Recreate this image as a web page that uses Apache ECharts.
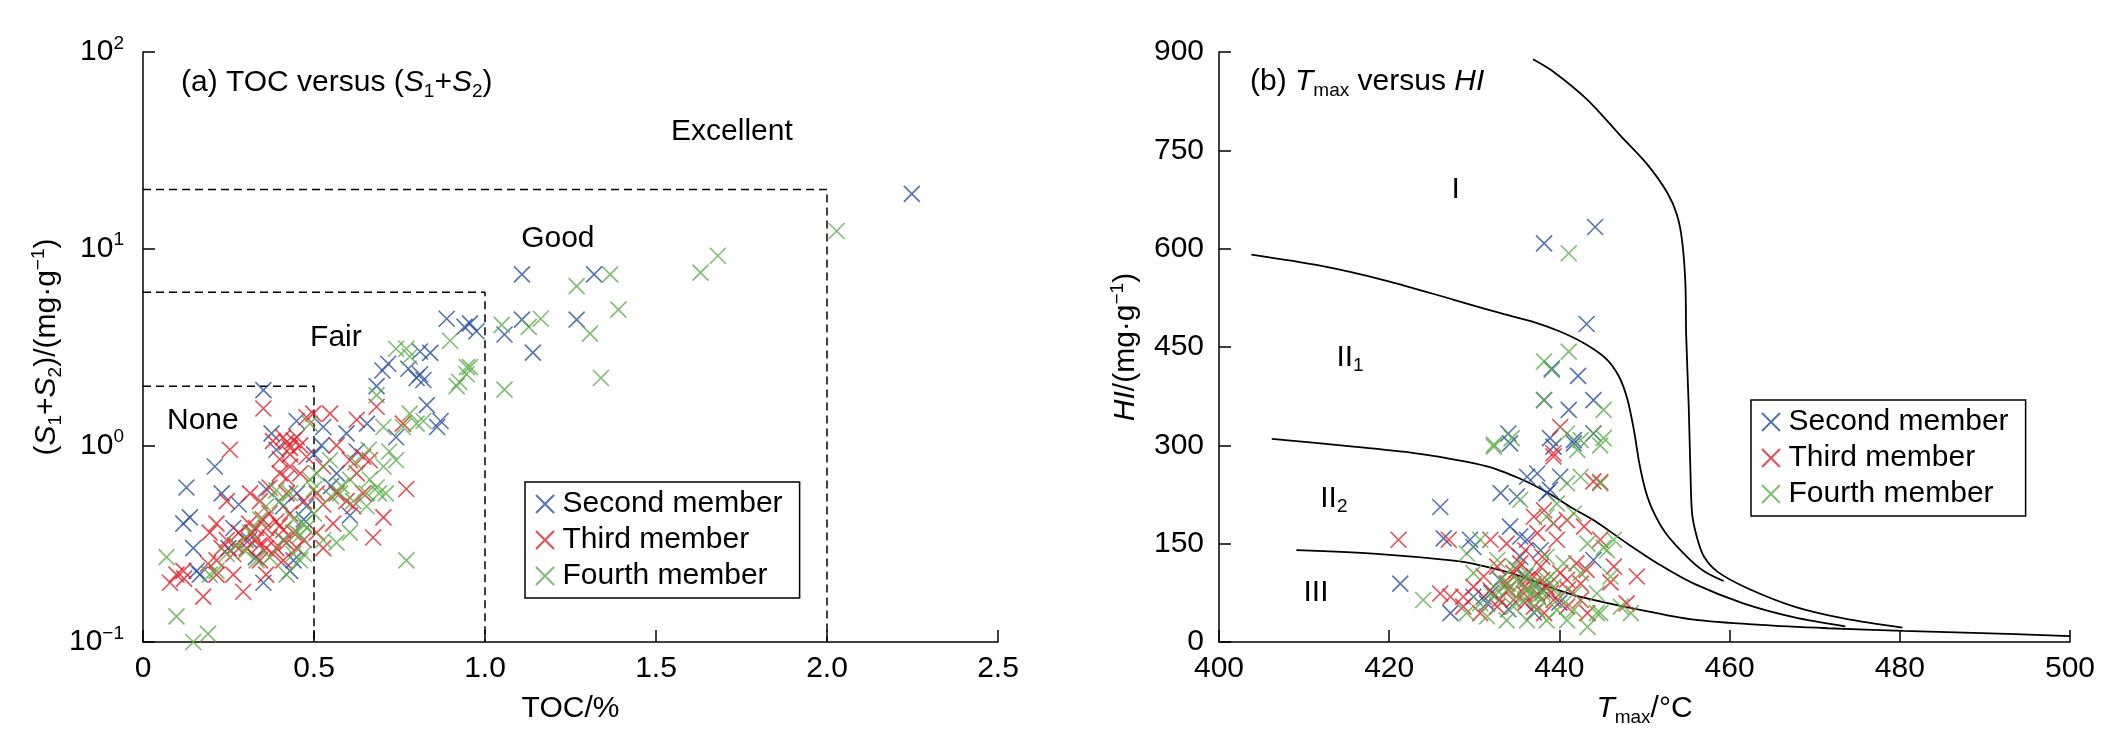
<!DOCTYPE html>
<html>
<head>
<meta charset="utf-8">
<title>TOC versus (S1+S2) / Tmax versus HI</title>
<script src="https://cdn.jsdelivr.net/npm/echarts@6/dist/echarts.min.js"></script>
<style>
html, body { margin: 0; padding: 0; background: #fff; }
#chart { width: 2112px; height: 747px; }
</style>
</head>
<body>
<div id="chart"></div>
<script>
// ---- (a) TOC (%) vs S1+S2 (mg/g) ----
const tocSecond = [
  [0.352,1.91],[0.21,0.78],[0.127,0.61],[0.23,0.57],[0.118,0.40],[0.137,0.43],[0.157,0.23],[0.166,0.22],
  [0.147,0.30],[0.376,1.15],[0.449,1.33],[0.522,1.0],[0.595,1.15],[0.605,0.44],[0.352,0.20],[0.43,0.23],
  [0.41,0.49],[0.45,0.57],[0.47,0.42],[0.31,0.33],[0.264,0.38],[0.683,2.0],[0.717,2.6],[0.776,2.45],
  [0.80,2.2],[0.82,2.15],[0.81,2.3],[0.83,1.6],[0.87,1.33],[0.86,1.24],[0.888,4.4],[0.94,4.0],
  [0.956,4.17],[0.975,3.8],[0.84,2.95],[0.81,3.0],[0.527,1.24],[0.625,0.93],[0.566,0.72],[0.655,1.29],
  [0.41,0.33],[0.478,0.49],[0.36,0.6],[0.39,0.95],[0.5,0.9],[0.55,0.62],[0.33,0.27],[0.44,0.26],
  [0.28,0.5],[0.7,2.4],[0.74,1.1],[0.25,0.3],
  [2.248,19.0],[1.108,7.4],[1.319,7.4],[1.057,3.66],[1.108,4.36],[1.14,2.96],[1.268,4.36]
];
const tocThird = [
  [0.352,1.54],[0.254,0.95],[0.41,1.1],[0.42,1.04],[0.44,1.06],[0.43,0.97],[0.46,1.0],[0.478,1.39],
  [0.498,1.45],[0.547,1.45],[0.605,0.84],[0.644,0.875],[0.663,0.84],[0.625,1.35],[0.683,1.57],[0.77,0.60],
  [0.673,0.34],[0.566,0.57],[0.527,0.50],[0.595,0.52],[0.245,0.52],[0.215,0.40],[0.195,0.36],[0.245,0.33],
  [0.28,0.36],[0.31,0.40],[0.33,0.33],[0.36,0.38],[0.39,0.41],[0.41,0.37],[0.43,0.45],[0.37,0.45],
  [0.44,0.36],[0.45,0.30],[0.47,0.33],[0.39,0.30],[0.342,0.26],[0.303,0.30],[0.264,0.28],[0.215,0.26],
  [0.098,0.22],[0.079,0.20],[0.176,0.17],[0.293,0.18],[0.118,0.23],[0.215,0.22],[0.40,0.72],[0.43,0.78],
  [0.46,0.72],[0.527,0.78],[0.566,1.0],[0.508,0.57],[0.478,0.875],[0.342,0.52],[0.37,0.61],[0.313,0.57],
  [0.42,0.57],[0.47,0.52],[0.625,0.72],[0.508,0.36],[0.527,0.30],[0.615,0.49],[0.644,0.57],[0.556,0.40],
  [0.41,0.26],[0.36,0.22],[0.264,0.22],[0.703,0.43],[0.76,1.29],[0.32,0.36],[0.34,0.31],[0.37,0.34],
  [0.40,0.39],[0.35,0.42],[0.38,0.28],[0.42,0.32],[0.30,0.33],[0.27,0.31],[0.23,0.30],[0.40,0.85],
  [0.43,0.9],[0.38,1.05],[0.45,1.1],[0.42,0.68],[0.36,0.30],[0.33,0.38],[0.12,0.21],[0.19,0.25]
];
const tocFourth = [
  [0.069,0.27],[0.098,0.135],[0.147,0.10],[0.19,0.11],[0.77,0.26],[0.683,1.8],[0.74,3.1],[0.77,3.1],
  [0.78,2.83],[0.898,3.4],[0.917,2.0],[0.946,2.3],[0.956,2.5],[0.78,1.45],[0.80,1.29],[0.82,1.33],
  [0.76,1.24],[0.703,1.24],[0.72,0.93],[0.74,0.84],[0.703,0.78],[0.663,0.67],[0.69,0.57],[0.71,0.57],
  [0.654,0.49],[0.605,0.36],[0.566,0.32],[0.527,0.33],[0.478,0.38],[0.45,0.36],[0.47,0.28],[0.41,0.33],
  [0.40,0.52],[0.39,0.59],[0.43,0.57],[0.488,0.67],[0.508,0.72],[0.547,0.84],[0.576,0.57],[0.605,0.67],
  [0.36,0.49],[0.342,0.42],[0.313,0.36],[0.274,0.31],[0.245,0.28],[0.215,0.23],[0.195,0.22],[0.332,0.26],
  [0.37,0.27],[0.42,0.22],[0.459,0.26],[0.488,1.29],[0.44,0.28],[0.615,0.52],[0.683,0.61],[0.654,0.57],
  [0.46,0.35],[0.47,0.40],[0.44,0.42],[0.50,0.45],[0.55,0.55],[0.58,0.62],[0.30,0.29],[0.62,0.82],
  [0.66,0.95],[0.5,0.6],
  [2.028,12.3],[1.681,9.2],[1.63,7.55],[1.268,6.45],[1.366,7.4],[1.39,4.9],[1.307,3.7],[1.339,2.2],
  [1.057,1.92],[1.163,4.4],[1.128,4.0],[1.049,4.1],[0.925,2.1],[0.947,2.5]
];
// grade limits: [TOC, S1+S2]
const gradeLimits = [[0.5, 2], [1.0, 6], [2.0, 20]];
const gradeNames = ['None', 'Fair', 'Good', 'Excellent'];
const gradeLabelAt = [[0.175, 1.33], [0.564, 3.51], [1.213, 11.2], [1.722, 39.2]];

// ---- (b) Tmax (°C) vs HI (mg/g) ----
const tmaxSecond = [
  [444.2,633],[438.2,608],[443.2,485],[442.2,406],[439.1,417],[438.2,369],[444.0,369],[441.1,354],
  [434.0,318],[434.2,303],[438.9,311],[444.0,318],[441.7,308],[426,206],[421.3,89],[426.4,158],
  [427.2,44],[433.1,227],[435,222],[436.2,252],[437.4,257],[440.1,252],[438.9,232],[438.5,227],
  [434.2,176],[435.4,161],[436.2,156],[429.5,156],[429.9,145],[431.1,69],[431.5,59],[435.4,130],
  [437.8,140],[444,125],[439.3,298],[441.7,303],[429.9,69],[436,100],[433,95],[438,80],
  [440,60],[434,50],[437,45],[432,75]
];
const tmaxThird = [
  [440.1,328],[439.3,288],[421.1,156],[427,156],[439.3,283],[444,245],[449.1,100],[426,74],
  [427.2,69],[428.7,69],[437,191],[438.2,201],[439.3,181],[440.9,186],[437.4,166],[439.7,156],
  [442.9,176],[444.8,156],[446.4,115],[443.2,110],[442.5,89],[440.9,95],[440.1,105],[433.8,150],
  [431.9,156],[431.1,100],[432.7,115],[434.6,105],[436.2,95],[437.4,74],[438.5,84],[439.3,64],
  [437,54],[434.6,64],[432.7,54],[430.7,44],[428.7,54],[433.8,89],[435.8,74],[440.9,54],
  [442.5,64],[443.3,44],[447.9,59],[438.2,44],[431.9,79],[429.9,84],[435.4,120],[437.8,115],
  [446,91],[444.8,244],[436,85],[437,100],[435,110],[438,95],[439,75],[434,80],
  [433,65],[436,60],[441,80],[442,120],[438,130],[436,140]
];
const tmaxFourth = [
  [441.1,593],[441.1,443],[438.2,428],[439.1,415],[438.2,369],[445.2,354],[432.3,301],[434.4,311],
  [440.9,318],[442.5,308],[445.2,311],[444.0,318],[424,64],[429.1,135],[430.7,156],[432.3,298],
  [435.4,217],[440.9,242],[442.5,252],[444.8,242],[441.7,196],[439.7,211],[438.5,191],[445.6,140],
  [446.4,156],[446,100],[444.4,74],[447.2,54],[448.4,44],[443.3,23],[440.9,33],[438.5,33],
  [436.2,33],[433.8,33],[431.5,39],[429.1,44],[429.9,105],[432.7,125],[434.6,115],[436.2,105],
  [435.4,89],[437,89],[438.5,95],[439.3,84],[433.8,79],[435,69],[436.6,74],[437.8,64],
  [440.1,69],[441.7,74],[442.5,105],[440.5,120],[438.5,130],[443.3,150],[432.3,69],[430.7,59],
  [433.1,95],[434.6,54],[437.4,49],[439.7,49],[441.7,49],[444.4,44],[442.1,293],[444.8,300],
  [432.7,79],[445.2,144],[444.8,44],[436,80],[437,85],[435,95],[438,75],[434,90],
  [439,100],[436,65],[437.5,70]
];
// kerogen type boundaries
const curveI = [[436.9,889],[439.3,870],[443.3,827],[447.2,772],[450.3,729],[452.7,685],[453.8,652],
  [454.4,614],[454.8,549],[454.9,467],[455.2,358],[455.4,260],[455.6,195],[456.2,158],[457,130],
  [458.6,107],[462.1,82],[467.6,54],[473.4,36],[480.3,22]];
const curveII1 = [[403.8,591],[411.9,574],[419.7,551],[427.6,522],[433.5,500],[437,488],[440,474],
  [443,455],[445.5,432],[447,405],[448,370],[448.8,320],[449.4,272],[450.1,232],[451,200],
  [452.5,166],[455,130],[457,108],[459.3,93]];
const curveII2 = [[406.2,310],[415.8,298],[423.6,287],[431.5,268],[435.4,249],[438.6,228],[441.3,206],
  [444,186],[448,150],[451.9,117],[455.8,89],[461.6,59],[467.5,38],[473.6,24]];
const curveIII = [[409.1,140],[418.9,134],[427.6,124],[430.7,117],[434.6,104],[439.7,80],[442.5,69],
  [449.5,49],[455.8,34],[463.6,26],[471.5,21],[480.4,17],[488.6,14],[500,9]];
const kerogenNames = ['I', 'II1', 'II2', 'III'];
const kerogenLabelAt = [[427.8, 690], [415.4, 434], [413.5, 219], [411.4, 75]];

const memberNames = ['Second member', 'Third member', 'Fourth member'];
const memberColors = ['#2850a0', '#e41e26', '#5eae4c'];

const FONT = 'Liberation Sans, Arial, sans-serif';
const FS = 30;
const tok = (extra) => Object.assign({ fontSize: FS, lineHeight: 36, fontFamily: FONT, color: '#000', fontWeight: 'normal' }, extra);
const rich = {
  n: tok({}),
  i: tok({ fontStyle: 'italic' }),
  s: tok({ fontSize: 19, lineHeight: 19, verticalAlign: 'bottom' }),
  p: tok({ fontSize: 19, lineHeight: 19, verticalAlign: 'top' })
};
const crossSymbol = 'path://M0,0L20,20M20,0L0,20';

const axisCommon = {
  axisLine: { lineStyle: { color: '#000', width: 1.5 } },
  axisTick: { inside: true, length: 12, lineStyle: { color: '#000', width: 1.5 } },
  splitLine: { show: false },
  nameLocation: 'middle',
  nameTextStyle: { rich: rich }
};
const labelCommon = { color: '#000', fontSize: FS, fontFamily: FONT };

const chart = echarts.init(document.getElementById('chart'), null, { renderer: 'canvas' });

const series = [];
const panels = [[tocSecond, tocThird, tocFourth], [tmaxSecond, tmaxThird, tmaxFourth]];
panels.forEach((sets, k) => {
  sets.forEach((d, j) => {
    series.push({
      name: memberNames[j], type: 'scatter', xAxisIndex: k, yAxisIndex: k,
      data: d, symbol: crossSymbol, symbolSize: 16, z: 3,
      itemStyle: { color: memberColors[j], borderColor: memberColors[j], borderWidth: 1.6 },
      emphasis: { disabled: true }
    });
  });
});

// dashed grade boxes
gradeLimits.forEach(g => {
  series.push({
    type: 'line', xAxisIndex: 0, yAxisIndex: 0, silent: true, symbol: 'none', z: 1,
    data: [[0, g[1]], [g[0], g[1]], [g[0], 0.1]],
    lineStyle: { color: '#000', width: 1.5, type: [8, 5] }
  });
});

// kerogen curves
[curveI, curveII1, curveII2, curveIII].forEach(c => {
  series.push({
    type: 'line', xAxisIndex: 1, yAxisIndex: 1, silent: true, symbol: 'none', z: 1,
    smooth: 0.3, data: c, lineStyle: { color: '#000', width: 1.8 }
  });
});

const zoneLabel = (names, at, k) => ({
  type: 'scatter', xAxisIndex: k, yAxisIndex: k, silent: true, symbolSize: 1, z: 4,
  itemStyle: { color: 'rgba(0,0,0,0)' },
  data: at.map((p, i) => [p[0], p[1], names[i]]),
  label: {
    show: true, position: 'inside', rich: rich, color: '#000',
    textBorderWidth: 0, opacity: 1,
    formatter: p => {
      const t = p.data[2];
      const m = t.match(/^(II)(\d)$/);
      return m ? '{n|' + m[1] + '}{s|' + m[2] + '}' : '{n|' + t + '}';
    }
  }
});
series.push(zoneLabel(gradeNames, gradeLabelAt, 0));
series.push(zoneLabel(kerogenNames, kerogenLabelAt, 1));

const legendCommon = {
  orient: 'vertical', data: memberNames, itemWidth: 25, itemHeight: 18, itemGap: 6,
  padding: [7, 17, 7, 10], borderColor: '#000', borderWidth: 1.5,
  textStyle: { color: '#000', fontSize: FS, fontFamily: FONT },
  selectedMode: false
};

const option = {
  animation: false,
  backgroundColor: '#fff',
  title: [
    { text: '{n|(a) TOC versus (}{i|S}{s|1}{n|+}{i|S}{s|2}{n|)}', left: 181, top: 65, padding: 0,
      textStyle: { rich: rich, fontWeight: 'normal', color: '#000' } },
    { text: '{n|(b) }{i|T}{s|max}{n| versus }{i|HI}', left: 1250, top: 64, padding: 0,
      textStyle: { rich: rich, fontWeight: 'normal', color: '#000' } }
  ],
  legend: [
    Object.assign({ left: 525, top: 482 }, legendCommon),
    Object.assign({ left: 1751, top: 400 }, legendCommon)
  ],
  grid: [
    { left: 143, top: 52, width: 855, height: 590 },
    { left: 1219, top: 52, width: 851, height: 590 }
  ],
  xAxis: [
    Object.assign({
      gridIndex: 0, type: 'value', min: 0, max: 2.5, interval: 0.5,
      name: '{n|TOC/%}', nameGap: 49,
      axisLabel: Object.assign({ margin: 12, formatter: v => v === 0 ? '0' : v.toFixed(1) }, labelCommon)
    }, axisCommon),
    Object.assign({
      gridIndex: 1, type: 'value', min: 400, max: 500, interval: 20,
      name: '{i|T}{s|max}{n|/°C}', nameGap: 49,
      axisLabel: Object.assign({ margin: 12 }, labelCommon)
    }, axisCommon)
  ],
  yAxis: [
    Object.assign({
      gridIndex: 0, type: 'log', logBase: 10, min: 0.1, max: 100, interval: 1,
      name: '{n|(}{i|S}{s|1}{n|+}{i|S}{s|2}{n|)/(mg·g}{p|−1}{n|)}', nameGap: 75,
      axisLabel: Object.assign({
        margin: 19, rich: rich,
        formatter: v => {
          const e = Math.round(Math.log10(v));
          return '{n|10}{p|' + (e < 0 ? '−' + (-e) : e) + '}';
        }
      }, labelCommon)
    }, axisCommon),
    Object.assign({
      gridIndex: 1, type: 'value', min: 0, max: 900, interval: 150,
      name: '{i|HI}{n|/(mg·g}{p|−1}{n|)}', nameGap: 75,
      axisLabel: Object.assign({ margin: 15 }, labelCommon)
    }, axisCommon)
  ],
  series: series
};

chart.setOption(option);
window.addEventListener('resize', () => chart.resize());
</script>
</body>
</html>
